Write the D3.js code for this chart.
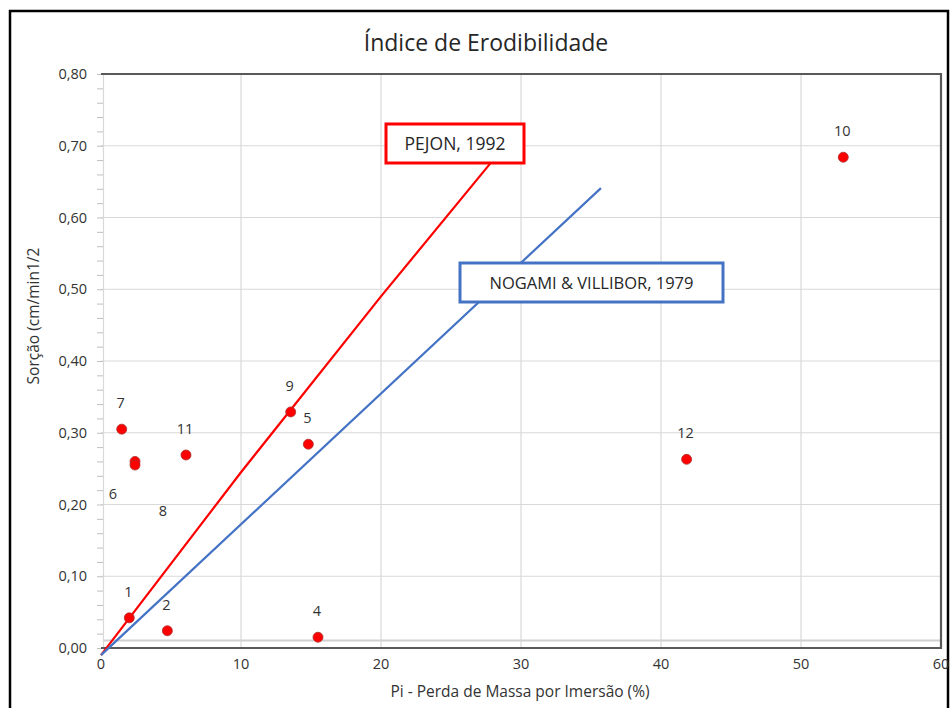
<!DOCTYPE html>
<html>
<head>
<meta charset="utf-8">
<script src="https://cdn.jsdelivr.net/npm/d3@7"></script>
<style>
  body { margin: 0; background: #fff; }
  text { font-family: "Open Sans", sans-serif; fill: #333; }
</style>
</head>
<body>
<svg id="chart"></svg>
<script>
var width = 951,
  height = 708;

// amostras: id, Pi (%), sorção
var ids = ['1', '2', '4', '5', '6', '7', '8', '9', '10', '11', '12'];
var pi = [2.02, 4.74, 15.5, 14.81, 2.43, 1.48, 2.43, 13.55, 53.02, 6.07, 41.83];
var sorcao = [0.042, 0.024, 0.015, 0.284, 0.26, 0.305, 0.255, 0.329, 0.684, 0.269, 0.263];

// retas de criterio
var pejonX = [0, 10, 20, 28];
var pejonY = [-0.01, 0.245, 0.49, 0.68];
var nogamiX = [0, 35.71];
var nogamiY = [-0.01, 0.641];

var xTicks = [0, 10, 20, 30, 40, 50, 60];
var yTicks = [0, 0.1, 0.2, 0.3, 0.4, 0.5, 0.6, 0.7, 0.8];

var x = d3.scaleLinear()
  .domain([0, 60])
  .range([101, 941]);

var y = d3.scaleLinear()
  .domain([0, 0.8])
  .range([648, 74]);

var svg = d3.select('#chart')
  .attr('width', width)
  .attr('height', height);

// moldura externa
svg.append('rect')
  .attr('x', 10)
  .attr('y', 11)
  .attr('width', 938)
  .attr('height', 720)
  .attr('fill', 'none')
  .attr('stroke', '#000')
  .attr('stroke-width', 2.5);

svg.append('text')
  .attr('x', 486)
  .attr('y', 51)
  .attr('text-anchor', 'middle')
  .style('font-size', '23px')
  .style('fill', '#262626')
  .text('Índice de Erodibilidade');

// grade
svg.append('g')
  .selectAll('line')
  .data(xTicks.slice(1, -1))
  .enter().append('line')
  .attr('x1', function(d) { return x(d); })
  .attr('x2', function(d) { return x(d); })
  .attr('y1', y(0.8))
  .attr('y2', y(0))
  .attr('stroke', '#d9d9d9')
  .attr('stroke-width', 1.2);

svg.append('g')
  .selectAll('line')
  .data(yTicks.slice(1, -1))
  .enter().append('line')
  .attr('x1', x(0))
  .attr('x2', x(60))
  .attr('y1', function(d) { return y(d); })
  .attr('y2', function(d) { return y(d); })
  .attr('stroke', '#d9d9d9')
  .attr('stroke-width', 1.2);

svg.append('line')
  .attr('x1', x(0) + 3)
  .attr('x2', x(60))
  .attr('y1', y(0.0105))
  .attr('y2', y(0.0105))
  .attr('stroke', '#d0d0d0')
  .attr('stroke-width', 2);

// eixo y com marcas menores
var yAxis = svg.append('g')
  .attr('transform', 'translate(' + (x(0) + 2) + ',0)')
  .call(d3.axisLeft(y)
    .ticks(40)
    .tickSize(6)
    .tickFormat(''));
yAxis.selectAll('line').attr('stroke', '#bfbfbf');
yAxis.select('.domain').attr('stroke', '#d9d9d9').attr('stroke-width', 1.2);

svg.append('g')
  .selectAll('text')
  .data(yTicks)
  .enter().append('text')
  .attr('x', 87)
  .attr('y', function(d) { return y(d) + 5; })
  .attr('text-anchor', 'end')
  .style('font-size', '14.5px')
  .text(function(d) { return d3.format('.2f')(d).replace('.', ','); });

svg.append('g')
  .selectAll('text')
  .data(xTicks)
  .enter().append('text')
  .attr('x', function(d) { return x(d); })
  .attr('y', 669)
  .attr('text-anchor', 'middle')
  .style('font-size', '14.5px')
  .text(function(d) { return d; });

// bordas escuras da area do grafico
svg.append('path')
  .attr('d', 'M' + x(0) + ',' + y(0.8) + 'H' + x(60) + 'V' + y(0) + 'H' + x(0))
  .attr('fill', 'none')
  .attr('stroke', '#595959')
  .attr('stroke-width', 2.2);

svg.append('text')
  .attr('x', 520)
  .attr('y', 697)
  .attr('text-anchor', 'middle')
  .style('font-size', '15.5px')
  .text('Pi - Perda de Massa por Imersão (%)');

svg.append('text')
  .attr('transform', 'translate(39,316) rotate(-90)')
  .attr('text-anchor', 'middle')
  .style('font-size', '15.5px')
  .text('Sorção (cm/min1/2');

var line = d3.line()
  .x(function(d) { return x(d[0]); })
  .y(function(d) { return y(d[1]); });

svg.append('path')
  .datum(d3.zip(pejonX, pejonY))
  .attr('d', line)
  .attr('fill', 'none')
  .attr('stroke', '#ff0000')
  .attr('stroke-width', 2.2);

svg.append('path')
  .datum(d3.zip(nogamiX, nogamiY))
  .attr('d', line)
  .attr('fill', 'none')
  .attr('stroke', '#4472c4')
  .attr('stroke-width', 2.2);

// pontos
var pts = d3.range(ids.length).map(function(i) {
  return { id: ids[i], px: pi[i], s: sorcao[i] };
});

svg.append('g')
  .selectAll('circle')
  .data(pts)
  .enter().append('circle')
  .attr('cx', function(d) { return x(d.px); })
  .attr('cy', function(d) { return y(d.s); })
  .attr('r', 5)
  .attr('fill', '#ff0000')
  .attr('stroke', '#a83232')
  .attr('stroke-width', 0.8);

// rotulos deslocados (6 e 8 sobrepostos no original)
var labelShift = { '6': [-22, 38], '8': [28, 51] };

svg.append('g')
  .selectAll('text')
  .data(pts)
  .enter().append('text')
  .attr('x', function(d) {
    var s = labelShift[d.id];
    return x(d.px) + (s ? s[0] : -1);
  })
  .attr('y', function(d) {
    var s = labelShift[d.id];
    return y(d.s) + (s ? s[1] : -21);
  })
  .attr('text-anchor', 'middle')
  .style('font-size', '14.5px')
  .text(function(d) { return d.id; });

// caixas de identificacao das retas
function caixa(bx, by, bw, bh, cor, txt, fs) {
  svg.append('rect')
    .attr('x', bx)
    .attr('y', by)
    .attr('width', bw)
    .attr('height', bh)
    .attr('fill', '#fff')
    .attr('stroke', cor)
    .attr('stroke-width', 3);
  svg.append('text')
    .attr('x', bx + bw / 2)
    .attr('y', by + bh / 2 + 6)
    .attr('text-anchor', 'middle')
    .style('font-size', fs + 'px')
    .style('fill', '#262626')
    .text(txt);
}

caixa(386, 124, 138, 39, '#ff0000', 'PEJON, 1992', 17.5);
caixa(460, 263, 263, 39, '#4472c4', 'NOGAMI & VILLIBOR, 1979', 16.5);
</script>
</body>
</html>
